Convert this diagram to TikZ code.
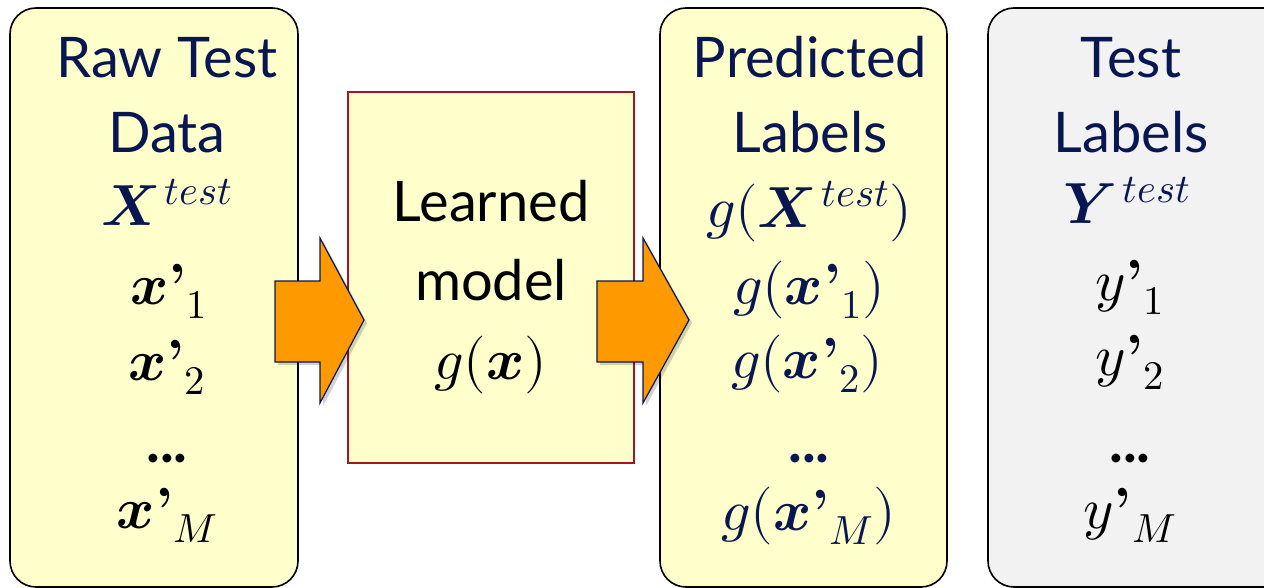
\documentclass[tikz,border=0pt]{standalone}
\usepackage{fontspec}
\usepackage{unicode-math}
\setmainfont{Lato}
\setmathfont{Latin Modern Math}
\newfontfamily\lmfont{Latin Modern Roman}
\definecolor{navy}{RGB}{8,22,82}
\definecolor{paleyellow}{RGB}{255,255,204}
\definecolor{palegray}{RGB}{242,242,242}
\definecolor{boxred}{RGB}{160,24,40}
\definecolor{arroworange}{RGB}{255,153,0}
\newcommand{\qq}{\textnormal{\lmfont\bfseries ’}}
\tikzset{
  panel/.style={draw=black, line width=1.6pt, rounded corners=26pt},
  modelbox/.style={draw=boxred, line width=1.2pt, fill=paleyellow},
  title/.style={font=\fontsize{56}{60}\selectfont, inner sep=0pt, anchor=base},
  mth/.style={font=\fontsize{58}{62}\selectfont, inner sep=0pt, anchor=base},
  blockarrow/.style={fill=arroworange, draw=navy, line width=1.2pt, line join=miter},
  shadowarrow/.style={fill=black, opacity=0.18}
}
\begin{document}
\begin{tikzpicture}[x=1pt,y=-1pt]
\useasboundingbox (0,0) rectangle (1264,588);
% panels
\draw[panel, fill=paleyellow] (10,8) rectangle (298,587);
\draw[panel, fill=paleyellow] (660,8) rectangle (947,587);
\draw[panel, fill=palegray] (988,8) rectangle (1290,587);
\draw[modelbox] (348,92) rectangle (634,463);
% raw test data
\node[title, text=navy] (r1) at (167,78) {Raw Test};
\node[title, text=navy] (r2) at (167,153) {Data};
\node[mth, text=navy] (r3) at (167,226) {$\symbfit{X}^{\,test}$};
\node[mth] (r4) at (169,304) {$\symbfit{x}\qq_{1}$};
\node[mth] (r5) at (167,380) {$\symbfit{x}\qq_{2}$};
\node[mth] (r6) at (167,462) {\textbf{...}};
\node[mth] (r7) at (167,528) {$\symbfit{x}\qq_{M}$};
% learned model
\node[title] (m1) at (491,222) {Learned};
\node[title] (m2) at (491,300) {model};
\node[mth] (m3) at (491,379) {$g(\symbfit{x})$};
% predicted labels
\node[title, text=navy] (p1) at (810,78) {Predicted};
\node[title, text=navy] (p2) at (810,153) {Labels};
\node[mth, text=navy] (p3) at (809,228) {$g(\symbfit{X}^{\,test})$};
\node[mth, text=navy] (p4) at (809,304) {$g(\symbfit{x}\qq_{1})$};
\node[mth, text=navy] (p5) at (807,378) {$g(\symbfit{x}\qq_{2})$};
\node[mth, text=navy] (p6) at (809,462) {\textbf{...}};
\node[mth, text=navy] (p7) at (809,530) {$g(\symbfit{x}\qq_{M})$};
% test labels
\node[title, text=navy] (t1) at (1131,78) {Test};
\node[title, text=navy] (t2) at (1131,153) {Labels};
\node[mth, text=navy] (t3) at (1127,224) {$\symbfit{Y}^{\,test}$};
\node[mth] (t4) at (1130,300) {$y\qq_{1}$};
\node[mth] (t5) at (1130,375) {$y\qq_{2}$};
\node[mth] (t6) at (1130,462) {\textbf{...}};
\node[mth] (t7) at (1130,528) {$y\qq_{M}$};
% arrows
\foreach \a/\b/\c in {275/320/364, 597/643/689}{
  \fill[shadowarrow] (\a+3,284) -- (\b+3,284) -- (\b+3,241) -- (\c+3,323) -- (\b+3,406) -- (\b+3,365) -- (\a+3,365) -- cycle;
  \draw[blockarrow] (\a,281) -- (\b,281) -- (\b,238) -- (\c,320) -- (\b,403) -- (\b,362) -- (\a,362) -- cycle;
}
\end{tikzpicture}
\end{document}
